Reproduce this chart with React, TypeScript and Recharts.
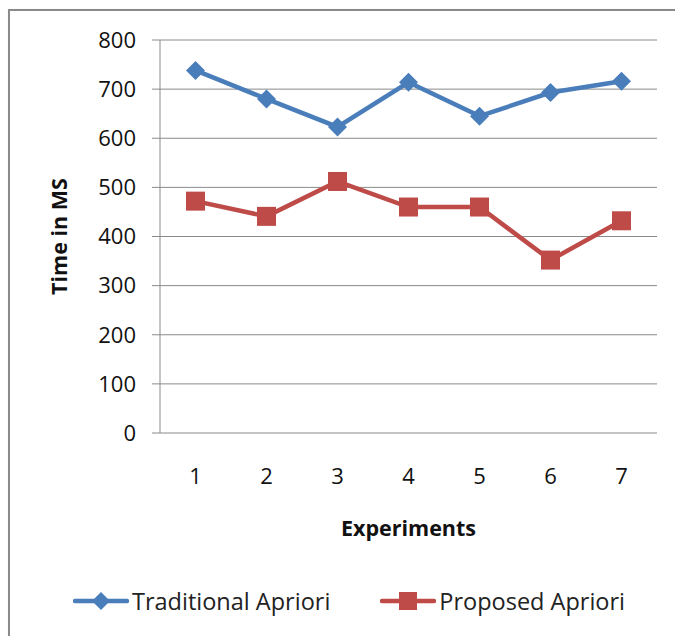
import React from 'react';
import { CartesianGrid, Label, Legend, Line, LineChart, XAxis, YAxis } from 'recharts';

const experiments = ['1', '2', '3', '4', '5', '6', '7'];
const traditional = [738, 680, 623, 714, 645, 693, 716];
const proposed = [472, 441, 512, 460, 460, 352, 432];
const yTicks = [0, 100, 200, 300, 400, 500, 600, 700, 800];

const data = experiments.map((exp, i) => ({
  exp,
  traditional: traditional[i],
  proposed: proposed[i],
}));
// boundaries between categories, used only for the tick marks
const boundaries = [0, ...experiments.map((_, i) => i + 1)];

const BLUE = '#4a7ebb';
const RED = '#be4b48';
const GRAY = '#8a8a8a';
const FONT = '"Open Sans", sans-serif';
const HALF_BAND = (657 - 160) / experiments.length / 2;

const Diamond = ({ cx, cy }) => (
  <path d={`M${cx},${cy - 9.5} L${cx + 9.5},${cy} L${cx},${cy + 9.5} L${cx - 9.5},${cy} Z`} fill={BLUE} />
);

const Square = ({ cx, cy }) => <rect x={cx - 9.5} y={cy - 9.5} width={19} height={19} fill={RED} />;

const legendItems = [
  { name: 'Traditional Apriori', color: BLUE, shape: 'diamond' },
  { name: 'Proposed Apriori', color: RED, shape: 'square' },
];

const LegendContent = () => (
  <div
    style={{
      display: 'flex',
      alignItems: 'center',
      whiteSpace: 'nowrap',
      fontFamily: FONT,
      fontSize: 23.5,
      color: '#222',
    }}
  >
    {legendItems.map((item) => (
      <div key={item.name} style={{ display: 'flex', alignItems: 'center', flexShrink: 0, marginRight: 50 }}>
        <svg width={56} height={24}>
          <line x1={2} y1={12} x2={54} y2={12} stroke={item.color} strokeWidth={4.5} strokeLinecap="round" />
          {item.shape === 'diamond' ? (
            <path d="M28,3 L37,12 L28,21 L19,12 Z" fill={item.color} />
          ) : (
            <rect x={19} y={3} width={18} height={18} fill={item.color} />
          )}
        </svg>
        <span style={{ marginLeft: 3 }}>{item.name}</span>
      </div>
    ))}
  </div>
);

export default function App() {
  return (
    <div style={{ position: 'absolute', left: 0, top: 0, width: 675, height: 636, overflow: 'hidden', background: '#fff' }}>
      <div
        style={{
          position: 'absolute',
          left: 8,
          top: 9,
          width: 675,
          height: 660,
          border: `2px solid ${GRAY}`,
          boxShadow: '1px 1px 2px rgba(0,0,0,0.25)',
        }}
      />
      <LineChart
        width={675}
        height={636}
        data={data}
        margin={{ top: 40, right: 18, left: 0, bottom: 93 }}
        style={{ position: 'absolute', left: 0, top: 0 }}
      >
        <CartesianGrid stroke={GRAY} vertical={false} />
        <XAxis
          xAxisId="marks"
          type="number"
          domain={[0, experiments.length]}
          ticks={boundaries}
          tick={false}
          height={0}
          tickSize={8}
          axisLine={{ stroke: GRAY }}
          tickLine={{ stroke: GRAY }}
        />
        <XAxis
          dataKey="exp"
          height={110}
          padding={{ left: HALF_BAND, right: HALF_BAND }}
          axisLine={false}
          tickLine={false}
          tickMargin={29}
          tick={{ fill: '#111', fontSize: 22, fontFamily: FONT }}
        >
          <Label
            value="Experiments"
            position="insideTop"
            offset={88}
            style={{ fontFamily: FONT, fontSize: 21.5, fontWeight: 700, fill: '#111' }}
          />
        </XAxis>
        <YAxis
          width={160}
          domain={[0, 800]}
          ticks={yTicks}
          tickSize={8}
          tickMargin={16}
          axisLine={{ stroke: GRAY }}
          tickLine={{ stroke: GRAY }}
          tick={{ fill: '#111', fontSize: 22, fontFamily: FONT }}
        >
          <Label
            value="Time in MS"
            angle={-90}
            position="insideLeft"
            offset={59}
            style={{ fontFamily: FONT, fontSize: 21.5, fontWeight: 700, fill: '#111', textAnchor: 'middle' }}
          />
        </YAxis>
        <Legend
          layout="horizontal"
          verticalAlign="middle"
          align="center"
          content={<LegendContent />}
          wrapperStyle={{ top: 585, left: 73, width: 600 }}
        />
        <Line
          dataKey="traditional"
          name="Traditional Apriori"
          stroke={BLUE}
          strokeWidth={4.5}
          dot={<Diamond />}
          activeDot={false}
          isAnimationActive={false}
        />
        <Line
          dataKey="proposed"
          name="Proposed Apriori"
          stroke={RED}
          strokeWidth={4.5}
          dot={<Square />}
          activeDot={false}
          isAnimationActive={false}
        />
      </LineChart>
    </div>
  );
}
